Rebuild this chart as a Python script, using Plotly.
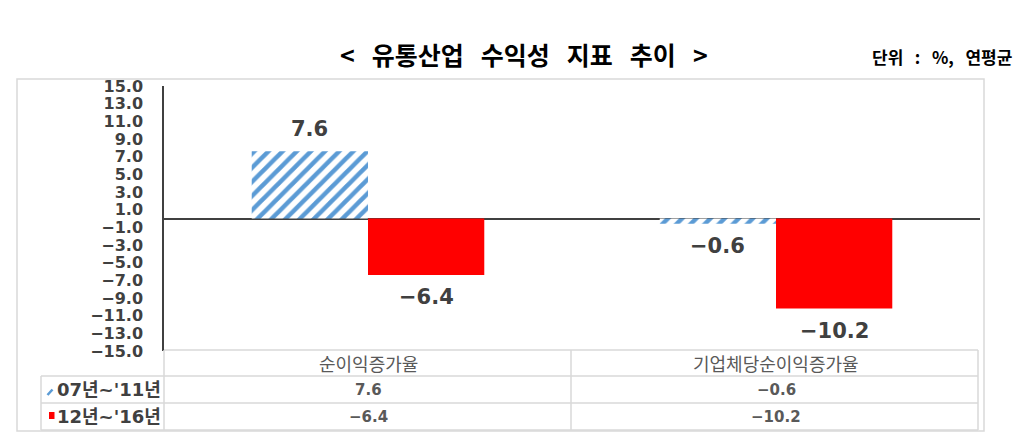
import plotly.graph_objects as go

# chart data
categories = ['순이익증가율', '기업체당순이익증가율']
series_names = ["'07년~'11년", "'12년~'16년"]
row_labels = ["07년~'11년", "12년~'16년"]   # as printed next to the legend keys
values_0711 = [7.6, -0.6]
values_1216 = [-6.4, -10.2]
y_ticks = [15, 13, 11, 9, 7, 5, 3, 1, -1, -3, -5, -7, -9, -11, -13, -15]

title_text = '< 유통산업 수익성 지표 추이 >'
unit_text = '단위 : %, 연평균'

W, H = 1024, 439
L, R, T, B = 164, 44, 86, 88
BLUE = '#5b9bd5'
RED = '#ff0000'
GRID = '#d9d9d9'
DARK = '#404040'
GRAY = '#595959'
BARGAP = 0.43


def px(x):
    return (x - L) / (W - L - R)


def py(y):
    return (H - B - y) / (H - T - B)


def fmt(v):
    return f'{v:.1f}'.replace('-', '\u2212')


fig = go.Figure()
fig.add_trace(go.Bar(
    name=series_names[0], x=categories, y=values_0711,
    marker=dict(color='white', line=dict(width=0),
                pattern=dict(shape='/', fgcolor=BLUE, bgcolor='white',
                             fgopacity=1, fillmode='replace',
                             size=10, solidity=0.45)),
))
fig.add_trace(go.Bar(
    name=series_names[1], x=categories, y=values_1216,
    marker=dict(color=RED, line=dict(width=0)),
))

annotations = []
shapes = []

# value labels over / under the bars
half = (1 - BARGAP) / 4
for j, vals in enumerate([values_0711, values_1216]):
    off = -half if j == 0 else half
    for i, v in enumerate(vals):
        annotations.append(dict(
            xref='x', yref='y', x=i + off, y=v, text=fmt(v),
            yshift=22 if v >= 0 else -22, showarrow=False,
            xanchor='center', yanchor='middle',
            font=dict(family='DejaVu Sans', size=21, color=DARK, weight='bold')))

# outer frame
shapes.append(dict(type='rect', xref='paper', yref='paper',
                   x0=px(17), x1=px(984), y0=py(79), y1=py(431),
                   line=dict(color=GRID, width=1.5), layer='below'))

# data table grid
tl = dict(color=GRID, width=1.5)
for y0, xa in [(350, 164), (376, 41), (403, 41), (430, 41)]:
    shapes.append(dict(type='line', xref='paper', yref='paper',
                       x0=px(xa), x1=px(978), y0=py(y0), y1=py(y0), line=tl))
for xv, ya in [(41, 376), (164, 350), (571, 350), (978, 350)]:
    shapes.append(dict(type='line', xref='paper', yref='paper',
                       x0=px(xv), x1=px(xv), y0=py(ya), y1=py(430), line=tl))

# header row
for i, c in enumerate(categories):
    annotations.append(dict(
        xref='x', yref='paper', x=i, y=py(363), text=c, showarrow=False,
        xanchor='center', yanchor='middle',
        font=dict(family='Noto Sans CJK KR', size=18, color=GRAY)))

# data rows
row_y = [389.5, 416.5]
for r, vals in enumerate([values_0711, values_1216]):
    annotations.append(dict(
        xref='paper', yref='paper', x=px(55), y=py(row_y[r]), text=row_labels[r],
        xanchor='left', yanchor='middle', showarrow=False,
        font=dict(family='DejaVu Sans, Noto Sans CJK KR', size=18,
                  color=DARK, weight='bold')))
    for i, v in enumerate(vals):
        annotations.append(dict(
            xref='x', yref='paper', x=i, y=py(row_y[r]), text=fmt(v),
            showarrow=False, xanchor='center', yanchor='middle',
            font=dict(family='DejaVu Sans', size=15, color=GRAY, weight='bold')))

# legend keys in the table
shapes.append(dict(type='line', xref='paper', yref='paper',
                   x0=px(47.5), x1=px(52.5), y0=py(395), y1=py(389.5),
                   line=dict(color=BLUE, width=2.5)))
shapes.append(dict(type='rect', xref='paper', yref='paper',
                   x0=px(49), x1=px(54.5), y0=py(419), y1=py(412),
                   line=dict(width=0), fillcolor=RED))

# titles
annotations.append(dict(
    xref='paper', yref='paper', x=px(524), y=py(54),
    text=title_text.replace(' ', '\u00a0\u00a0\u00a0'), showarrow=False,
    xanchor='center', yanchor='middle',
    font=dict(family='Noto Sans CJK KR', size=25, color='black', weight='bold')))
annotations.append(dict(
    xref='paper', yref='paper', x=px(1014), y=py(56),
    xanchor='right', yanchor='middle',
    text=unit_text.replace(' ', '\u00a0\u00a0\u00a0'), showarrow=False,
    font=dict(family='Noto Sans CJK KR', size=17, color='black', weight='bold')))

fig.update_layout(
    width=W, height=H,
    margin=dict(l=L, r=R, t=T, b=B),
    paper_bgcolor='white', plot_bgcolor='white',
    barmode='group', bargap=BARGAP, bargroupgap=0,
    showlegend=False,
    xaxis=dict(showticklabels=False, showgrid=False, zeroline=False,
               showline=False, fixedrange=True),
    yaxis=dict(range=[-15, 15], tickvals=y_ticks, tickformat='.1f',
               showgrid=False, zeroline=True, zerolinecolor=DARK,
               zerolinewidth=1.5, showline=True, linecolor=DARK, linewidth=1.5,
               ticks='', ticklabelstandoff=16,
               tickfont=dict(family='DejaVu Sans', size=16, color=DARK,
                             weight='bold')),
    annotations=annotations,
    shapes=shapes,
)

fig.write_html('out.html', config={'displayModeBar': False},
               post_script="document.body.style.margin='0';")
